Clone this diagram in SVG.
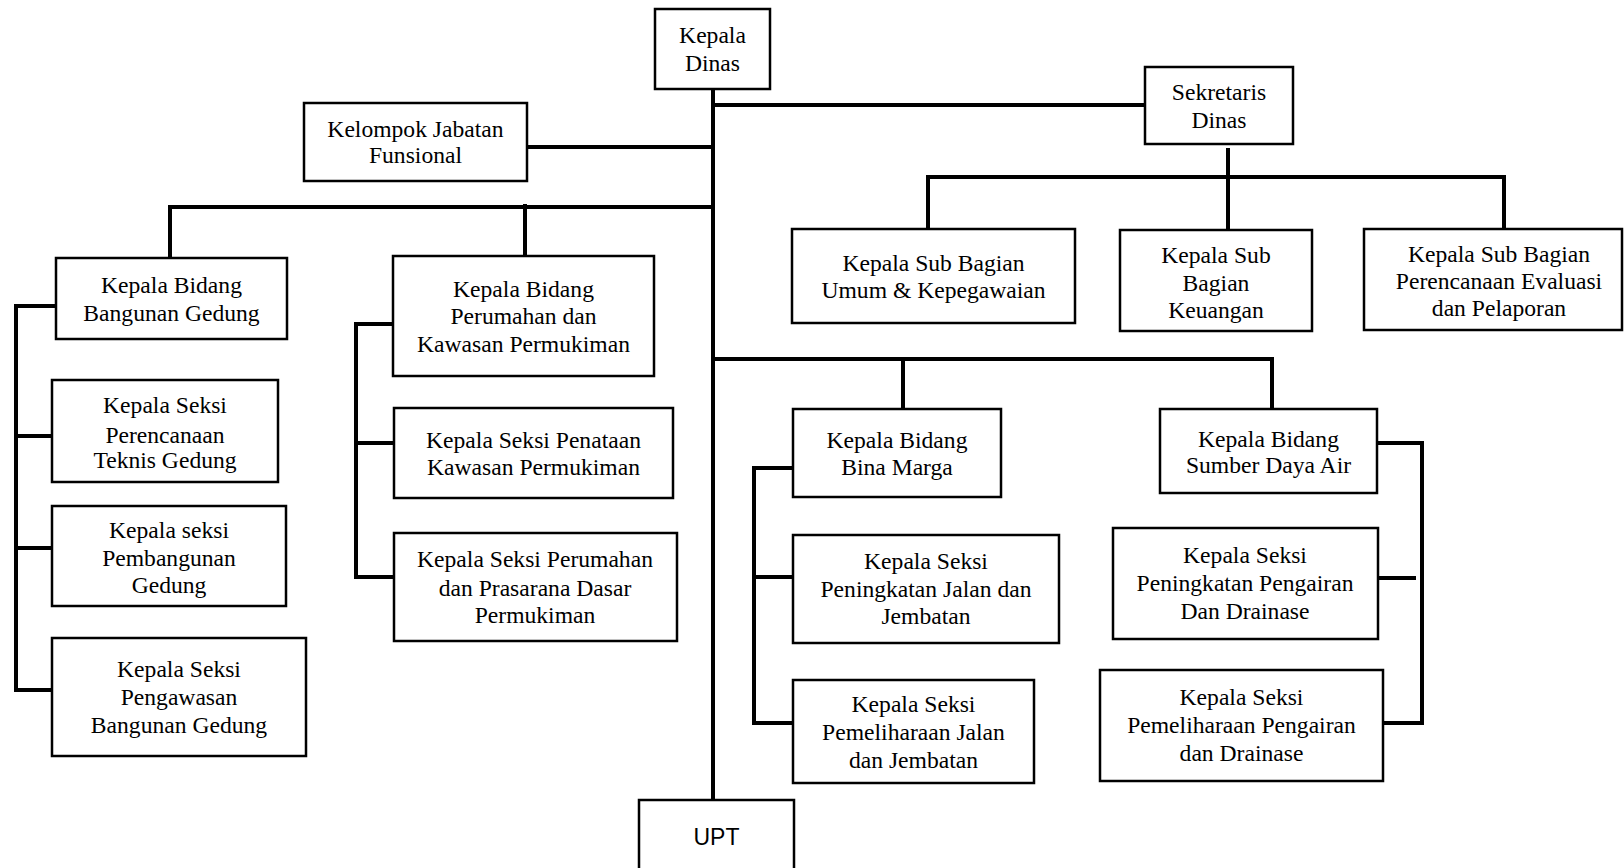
<svg xmlns="http://www.w3.org/2000/svg" width="1624" height="868" viewBox="0 0 1624 868">
<style>
.b{fill:#fff;stroke:#000;stroke-width:2.5}
.t{font-family:"Liberation Serif","Times New Roman",serif;font-size:23.6px;fill:#000;text-anchor:middle}
.s{font-family:"Liberation Sans",Arial,sans-serif;font-size:23px;fill:#000;text-anchor:middle}
.c{fill:none;stroke:#000;stroke-width:4}
</style>
<rect width="1624" height="868" fill="#fff"/>
<g id="connectors" class="c">
<path d="M713 89V800"/>
<path d="M713 105H1145"/>
<path d="M527 147H713"/>
<path d="M170 258V207H713"/>
<path d="M525 204V256"/>
<path d="M1228 148V177"/>
<path d="M928 229V177H1504V229"/>
<path d="M1228 177V229"/>
<path d="M713 359H1272V409"/>
<path d="M903 359V409"/>
<path d="M56 306H16V690H52"/>
<path d="M16 436H52"/>
<path d="M16 548H52"/>
<path d="M393 324H356V577H394"/>
<path d="M356 443H394"/>
<path d="M793 468H754V723H793"/>
<path d="M754 577H793"/>
<path d="M1377 443H1422V723H1383"/>
<path d="M1378 578H1416"/>
</g>
<g id="kepala-dinas"><rect class="b" x="655" y="9" width="115" height="80"/><text class="t" x="712.5" y="43">Kepala</text><text class="t" x="712.5" y="71">Dinas</text></g>
<g id="kelompok-jabatan"><rect class="b" x="304" y="103" width="223" height="78"/><text class="t" x="415.5" y="137">Kelompok Jabatan</text><text class="t" x="415.5" y="163">Funsional</text></g>
<g id="sekretaris"><rect class="b" x="1145" y="67" width="148" height="77"/><text class="t" x="1219" y="100">Sekretaris</text><text class="t" x="1219" y="128">Dinas</text></g>
<g id="sub-umum"><rect class="b" x="792" y="229" width="283" height="94"/><text class="t" x="933.5" y="271">Kepala Sub Bagian</text><text class="t" x="933.5" y="298">Umum &amp; Kepegawaian</text></g>
<g id="sub-keuangan"><rect class="b" x="1120" y="230" width="192" height="101"/><text class="t" x="1216" y="263">Kepala Sub</text><text class="t" x="1216" y="291">Bagian</text><text class="t" x="1216" y="318">Keuangan</text></g>
<g id="sub-perencanaan"><rect class="b" x="1364" y="229" width="258" height="101"/><text class="t" x="1499" y="262">Kepala Sub Bagian</text><text class="t" x="1499" y="289">Perencanaan Evaluasi</text><text class="t" x="1499" y="316">dan Pelaporan</text></g>
<g id="bidang-bangunan"><rect class="b" x="56" y="258" width="231" height="81"/><text class="t" x="171.5" y="293">Kepala Bidang</text><text class="t" x="171.5" y="321">Bangunan Gedung</text></g>
<g id="bidang-perumahan"><rect class="b" x="393" y="256" width="261" height="120"/><text class="t" x="523.5" y="297">Kepala Bidang</text><text class="t" x="523.5" y="324">Perumahan dan</text><text class="t" x="523.5" y="352">Kawasan Permukiman</text></g>
<g id="seksi-perencanaan-teknis"><rect class="b" x="52" y="380" width="226" height="102"/><text class="t" x="165" y="413">Kepala Seksi</text><text class="t" x="165" y="443">Perencanaan</text><text class="t" x="165" y="468">Teknis Gedung</text></g>
<g id="seksi-pembangunan"><rect class="b" x="52" y="506" width="234" height="100"/><text class="t" x="169" y="538">Kepala seksi</text><text class="t" x="169" y="566">Pembangunan</text><text class="t" x="169" y="593">Gedung</text></g>
<g id="seksi-pengawasan"><rect class="b" x="52" y="638" width="254" height="118"/><text class="t" x="179" y="677">Kepala Seksi</text><text class="t" x="179" y="705">Pengawasan</text><text class="t" x="179" y="733">Bangunan Gedung</text></g>
<g id="seksi-penataan"><rect class="b" x="394" y="408" width="279" height="90"/><text class="t" x="533.5" y="448">Kepala Seksi Penataan</text><text class="t" x="533.5" y="475">Kawasan Permukiman</text></g>
<g id="seksi-prasarana"><rect class="b" x="394" y="533" width="283" height="108"/><text class="t" x="535" y="567">Kepala Seksi Perumahan</text><text class="t" x="535" y="596">dan Prasarana Dasar</text><text class="t" x="535" y="623">Permukiman</text></g>
<g id="bidang-bina-marga"><rect class="b" x="793" y="409" width="208" height="88"/><text class="t" x="897" y="448">Kepala Bidang</text><text class="t" x="897" y="475">Bina Marga</text></g>
<g id="bidang-sda"><rect class="b" x="1160" y="409" width="217" height="84"/><text class="t" x="1268.5" y="447">Kepala Bidang</text><text class="t" x="1268.5" y="473">Sumber Daya Air</text></g>
<g id="seksi-peningkatan-jalan"><rect class="b" x="793" y="535" width="266" height="108"/><text class="t" x="926" y="569">Kepala Seksi</text><text class="t" x="926" y="597">Peningkatan Jalan dan</text><text class="t" x="926" y="624">Jembatan</text></g>
<g id="seksi-pemeliharaan-jalan"><rect class="b" x="793" y="680" width="241" height="103"/><text class="t" x="913.5" y="712">Kepala Seksi</text><text class="t" x="913.5" y="740">Pemeliharaan Jalan</text><text class="t" x="913.5" y="768">dan Jembatan</text></g>
<g id="seksi-peningkatan-pengairan"><rect class="b" x="1113" y="528" width="265" height="111"/><text class="t" x="1245" y="563">Kepala Seksi</text><text class="t" x="1245" y="591">Peningkatan Pengairan</text><text class="t" x="1245" y="619">Dan Drainase</text></g>
<g id="seksi-pemeliharaan-pengairan"><rect class="b" x="1100" y="670" width="283" height="111"/><text class="t" x="1241.5" y="705">Kepala Seksi</text><text class="t" x="1241.5" y="733">Pemeliharaan Pengairan</text><text class="t" x="1241.5" y="761">dan Drainase</text></g>
<g id="upt"><rect class="b" x="639" y="800" width="155" height="80"/><text class="s" x="716.5" y="845">UPT</text></g>
</svg>
